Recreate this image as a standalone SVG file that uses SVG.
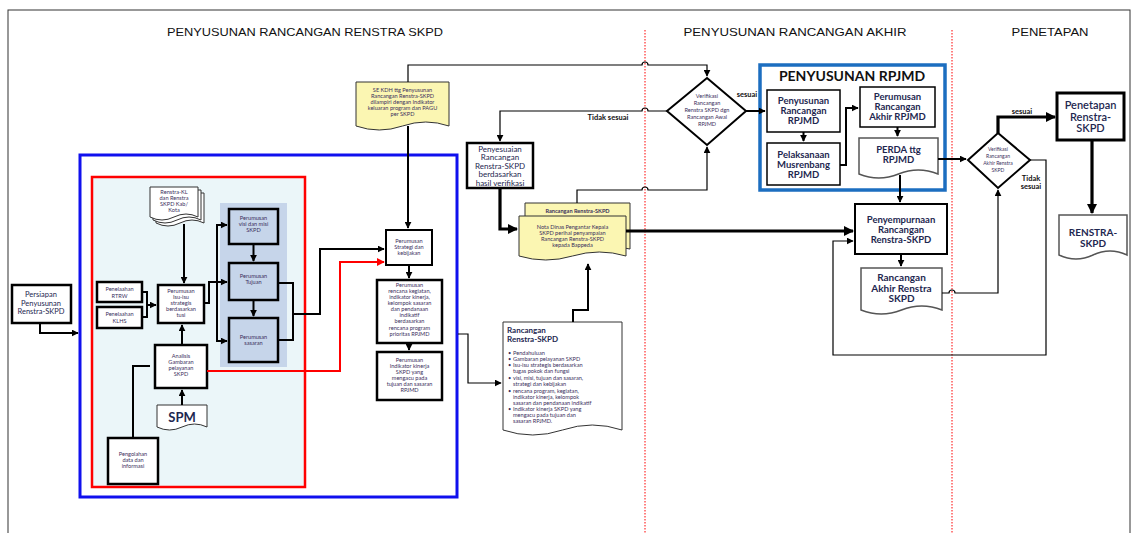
<svg xmlns="http://www.w3.org/2000/svg" width="1134" height="533" viewBox="0 0 1134 533">
<defs>
<marker id="a" viewBox="0 0 10 10" refX="9" refY="5" markerWidth="7" markerHeight="7" markerUnits="userSpaceOnUse" orient="auto"><path d="M0,0 L10,5 L0,10 z" fill="#000"/></marker>
<marker id="ab" viewBox="0 0 10 10" refX="9" refY="5" markerWidth="10" markerHeight="10" markerUnits="userSpaceOnUse" orient="auto"><path d="M0,0 L10,5 L0,10 z" fill="#000"/></marker>
<marker id="ar" viewBox="0 0 10 10" refX="9" refY="5" markerWidth="8" markerHeight="8" markerUnits="userSpaceOnUse" orient="auto"><path d="M0,0 L10,5 L0,10 z" fill="#f00"/></marker>
<style>
.box{fill:#fff;stroke:#000;stroke-width:2.5}
.bl{fill:#c6d5ea;stroke:#000;stroke-width:2.5}
.bx{fill:#fff;stroke:#000;stroke-width:1.5}
.doc{fill:#fff;stroke:#333;stroke-width:1}
.gdoc{fill:#fff;stroke:#555;stroke-width:1.5}
.ydoc{fill:#fbf6b2;stroke:#333;stroke-width:1}
.c{fill:none;stroke:#000;stroke-width:2}
.t{fill:none;stroke:#000;stroke-width:1.2}
.k{fill:none;stroke:#000;stroke-width:3.2}
.dash{fill:none;stroke:#f00;stroke-width:1;stroke-dasharray:1.5,1.5}
text{font-family:Lato,"Open Sans","Liberation Sans",sans-serif;text-anchor:middle}
.s{font-size:5.6px;fill:#3a2f5c}
.m{font-size:7.5px;fill:#1e2750}
.p{font-size:8px;fill:#1e2750}
.b{font-size:9.5px;font-weight:bold;fill:#1e2750}
.h{font-family:"Liberation Sans Narrow","Liberation Sans",sans-serif;font-size:10.5px;fill:#111}
.lab{font-size:7.5px;font-weight:bold;fill:#111}
.l{text-anchor:start}
</style>
</defs>

<rect x="8" y="10" width="1122" height="540" fill="none" stroke="#333" stroke-width="1"/>

<g id="headers">
<text class="h" x="305" y="36" textLength="276" lengthAdjust="spacingAndGlyphs">PENYUSUNAN RANCANGAN RENSTRA SKPD</text>
<text class="h" x="795" y="36" textLength="223" lengthAdjust="spacingAndGlyphs">PENYUSUNAN RANCANGAN AKHIR</text>
<text class="h" x="1050" y="36" textLength="77" lengthAdjust="spacingAndGlyphs">PENETAPAN</text>
</g>

<g id="dividers">
<line class="dash" x1="645" y1="30" x2="645" y2="533"/>
<line class="dash" x1="952" y1="30" x2="952" y2="533"/>
</g>

<g id="blue-frame"><rect x="80" y="155" width="377" height="342" fill="none" stroke="#1010ee" stroke-width="3"/></g>
<g id="red-frame"><rect x="92" y="177" width="213" height="310" fill="#ebf6f9" stroke="#f00" stroke-width="2.5"/></g>
<g id="panel"><rect x="220" y="203" width="67" height="164" fill="#c6d5ea"/></g>

<g id="persiapan"><rect class="box" x="12" y="285" width="59" height="38"/>
<text class="m" x="41" y="297">Persiapan</text><text class="m" x="41" y="305.5">Penyusunan</text><text class="m" x="41" y="314">Renstra-SKPD</text></g>

<g id="renstra-kl">
<path class="doc" d="M156,193 H204 V223 Q192,217 180,223 T156,223 Z"/>
<path class="doc" d="M153,190 H201 V220 Q189,214 177,220 T153,220 Z"/>
<path class="doc" d="M150,187 H198 V217 Q186,211 174,217 T150,217 Z"/>
<text class="s" x="174" y="194">Renstra-KL</text><text class="s" x="174" y="200">dan Renstra</text><text class="s" x="174" y="206">SKPD Kab/</text><text class="s" x="174" y="212">Kota</text></g>

<g id="rtrw"><rect class="box" x="97" y="282" width="45" height="20"/><text class="s" x="119.5" y="291">Penelaahan</text><text class="s" x="119.5" y="297.5">RTRW</text></g>
<g id="klhs"><rect class="box" x="97" y="307" width="45" height="21"/><text class="s" x="119.5" y="316">Penelaahan</text><text class="s" x="119.5" y="322.5">KLHS</text></g>

<g id="isu"><rect class="box" x="158" y="285" width="46" height="38"/>
<text class="s" x="181" y="293">Perumusan</text><text class="s" x="181" y="299">Isu-isu</text><text class="s" x="181" y="305">strategis</text><text class="s" x="181" y="311">berdasarkan</text><text class="s" x="181" y="317">tusi</text></g>

<g id="visi"><rect class="bl" x="229" y="209" width="49" height="35"/><text class="s" x="253.5" y="220">Perumusan</text><text class="s" x="253.5" y="226">visi dan misi</text><text class="s" x="253.5" y="232">SKPD</text></g>
<g id="tujuan"><rect class="bl" x="229" y="263" width="49" height="37"/><text class="s" x="253.5" y="278">Perumusan</text><text class="s" x="253.5" y="284">Tujuan</text></g>
<g id="sasaran"><rect class="bl" x="229" y="318" width="49" height="44"/><text class="s" x="253.5" y="339">Perumusan</text><text class="s" x="253.5" y="345">sasaran</text></g>

<g id="analisis"><rect class="box" x="155" y="345" width="52" height="43"/>
<text class="s" x="181" y="358">Analisis</text><text class="s" x="181" y="364">Gambaran</text><text class="s" x="181" y="370">pelayanan</text><text class="s" x="181" y="376">SKPD</text></g>

<g id="spm"><path class="doc" d="M157,405 H207 V427 Q194.5,421 182,427 T157,427 Z"/><text x="182" y="422" style="font-size:13px;font-weight:bold;fill:#1e2750">SPM</text></g>

<g id="pengolahan"><rect class="box" x="108" y="438" width="50" height="46"/><text class="s" x="133" y="456">Pengolahan</text><text class="s" x="133" y="462">data dan</text><text class="s" x="133" y="468">informasi</text></g>

<g id="se-kdh"><path class="ydoc" d="M356,82 H449 V126 Q425.75,118 402.5,126 T356,126 Z"/>
<text class="s" x="402.5" y="92">SE KDH  ttg Penyusunan</text><text class="s" x="402.5" y="98">Rancangan Renstra-SKPD</text><text class="s" x="402.5" y="104">dilampiri dengan Indikator</text><text class="s" x="402.5" y="110">keluaran program dan PAGU</text><text class="s" x="402.5" y="116">per SKPD</text></g>

<g id="strategi"><rect class="c" x="386" y="230" width="46" height="35" style="fill:#fff"/><text class="s" x="409" y="243">Perumusan</text><text class="s" x="409" y="249">Strategi dan</text><text class="s" x="409" y="255">kebijakan</text></g>

<g id="rencana"><rect class="box" x="377" y="280" width="65" height="63"/>
<text class="s" x="409.5" y="287">Perumusan</text><text class="s" x="409.5" y="293">rencana kegiatan,</text><text class="s" x="409.5" y="299">indikator kinerja,</text><text class="s" x="409.5" y="305">kelompok sasaran</text><text class="s" x="409.5" y="311">dan pendanaan</text><text class="s" x="409.5" y="317">indikatif</text><text class="s" x="409.5" y="323">berdasarkan</text><text class="s" x="409.5" y="330">rencana program</text><text class="s" x="409.5" y="336">prioritas RPJMD</text></g>

<g id="indikator"><rect class="box" x="377" y="352" width="65" height="48"/>
<text class="s" x="409.5" y="362">Perumusan</text><text class="s" x="409.5" y="368">Indikator kinerja</text><text class="s" x="409.5" y="374">SKPD yang</text><text class="s" x="409.5" y="380">mengacu pada</text><text class="s" x="409.5" y="386">tujuan dan sasaran</text><text class="s" x="409.5" y="392">RPJMD</text></g>

<g id="penyesuaian"><rect class="box" x="467" y="143" width="66" height="45"/>
<text class="p" x="500" y="151.5">Penyesuaian</text><text class="p" x="500" y="160">Rancangan</text><text class="p" x="500" y="168.5">Renstra-SKPD</text><text class="p" x="500" y="177">berdasarkan</text><text class="p" x="500" y="185.5">hasil verifikasi</text></g>

<g id="nota-dinas">
<path class="ydoc" d="M525,203 H630 V249 Q603.75,243 577.5,249 T525,249 Z"/>
<text class="s" x="577.5" y="213" style="font-weight:bold">Rancangan Renstra-SKPD</text>
<path class="ydoc" d="M519,216 H626 V256 Q599.25,248 572.5,256 T519,256 Z"/>
<text class="s" x="572.5" y="229">Nota Dinas Pengantar Kepala</text><text class="s" x="572.5" y="235">SKPD perihal penyampaian</text><text class="s" x="572.5" y="241">Rancangan Renstra-SKPD</text><text class="s" x="572.5" y="247">kepada Bappeda</text></g>

<g id="rancangan-renstra"><path class="doc" d="M503,322 H622 V430 Q592.25,420 562.5,430 T503,430 Z"/>
<text class="l" x="507" y="333" style="font-size:8px;font-weight:bold;fill:#1e2750">Rancangan</text>
<text class="l" x="507" y="342" style="font-size:8px;font-weight:bold;fill:#1e2750">Renstra-SKPD</text>
<g class="s">
<text class="s l" x="508" y="355">•</text><text class="s l" x="513" y="355">Pendahuluan</text>
<text class="s l" x="508" y="361">•</text><text class="s l" x="513" y="361">Gambaran pelayanan SKPD</text>
<text class="s l" x="508" y="367">•</text><text class="s l" x="513" y="367">Isu-isu strategis  berdasarkan</text>
<text class="s l" x="513" y="373">tugas pokok dan fungsi</text>
<text class="s l" x="508" y="380">•</text><text class="s l" x="513" y="380">visi, misi, tujuan dan sasaran,</text>
<text class="s l" x="513" y="386">strategi dan kebijakan</text>
<text class="s l" x="508" y="393">•</text><text class="s l" x="513" y="393">rencana program, kegiatan,</text>
<text class="s l" x="513" y="399">indikator kinerja, kelompok</text>
<text class="s l" x="513" y="405">sasaran dan pendanaan indikatif</text>
<text class="s l" x="508" y="411">•</text><text class="s l" x="513" y="411">Indikator kinerja SKPD yang</text>
<text class="s l" x="513" y="417">mengacu pada tujuan dan</text>
<text class="s l" x="513" y="423">sasaran   RPJMD.</text>
</g></g>

<g id="verifikasi-1"><path d="M707,78 L746,111 L707,145 L667,111 Z" fill="#fff" stroke="#000" stroke-width="2"/>
<text class="s" x="707" y="98">Verifikasi</text><text class="s" x="707" y="105">Rancangan</text><text class="s" x="707" y="112">Renstra SKPD dgn</text><text class="s" x="707" y="119">Rancangan Awal</text><text class="s" x="707" y="126">RPJMD</text></g>

<g id="rpjmd-frame"><rect x="760" y="65" width="185" height="125" fill="#fff" stroke="#1c6ec0" stroke-width="3.5"/>
<text x="852" y="81" style="font-size:14px;font-weight:bold;fill:#111">PENYUSUNAN RPJMD</text></g>

<g id="penyusunan-rpjmd"><rect class="bx" x="767" y="90" width="73" height="42"/><text class="b" x="803.5" y="104">Penyusunan</text><text class="b" x="803.5" y="114">Rancangan</text><text class="b" x="803.5" y="124">RPJMD</text></g>
<g id="musrenbang"><rect class="bx" x="767" y="143" width="73" height="42"/><text class="b" x="803.5" y="158">Pelaksanaan</text><text class="b" x="803.5" y="168">Musrenbang</text><text class="b" x="803.5" y="178">RPJMD</text></g>
<g id="perumusan-akhir"><rect class="bx" x="860" y="87" width="75" height="40"/><text class="b" x="897.5" y="100">Perumusan</text><text class="b" x="897.5" y="110">Rancangan</text><text class="b" x="897.5" y="120">Akhir RPJMD</text></g>
<g id="perda"><path class="gdoc" d="M859,138 H938 V174 Q918.25,166 898.5,174 T859,174 Z"/><text class="b" x="898.5" y="153">PERDA ttg</text><text class="b" x="898.5" y="163">RPJMD</text></g>

<g id="penyempurnaan"><rect class="c" x="855" y="204" width="92" height="50" style="fill:#fff"/><text class="b" x="901" y="223">Penyempurnaan</text><text class="b" x="901" y="233">Rancangan</text><text class="b" x="901" y="243">Renstra-SKPD</text></g>
<g id="rancangan-akhir"><path class="gdoc" d="M861,268 H942 V310 Q921.75,302 901.5,310 T861,310 Z"/><text class="b" x="901.5" y="281" style="font-size:10px">Rancangan</text><text class="b" x="901.5" y="292" style="font-size:10px">Akhir Renstra</text><text class="b" x="901.5" y="302" style="font-size:10px">SKPD</text></g>

<g id="verifikasi-2"><path d="M998,133 L1030,160 L998,188 L968,160 Z" fill="#fff" stroke="#000" stroke-width="2"/>
<text class="s" x="998" y="151" style="font-size:5px">Verifikasi</text><text class="s" x="998" y="158" style="font-size:5px">Rancangan</text><text class="s" x="998" y="165" style="font-size:5px">Akhir Renstra</text><text class="s" x="998" y="172" style="font-size:5px">SKPD</text></g>

<g id="penetapan"><rect x="1057" y="93" width="67" height="47" fill="#fff" stroke="#000" stroke-width="3"/>
<text x="1090.5" y="109" style="font-size:11px;font-weight:600;fill:#1e2750">Penetapan</text><text x="1090.5" y="121" style="font-size:11px;font-weight:600;fill:#1e2750">Renstra-</text><text x="1090.5" y="132" style="font-size:11px;font-weight:600;fill:#1e2750">SKPD</text></g>
<g id="renstra-skpd"><path class="gdoc" d="M1059,215 H1127 V255 Q1110,247 1093,255 T1059,255 Z"/><text class="b" x="1093" y="236" style="font-size:10px">RENSTRA-</text><text class="b" x="1093" y="247" style="font-size:10px">SKPD</text></g>

<g id="connectors">
<path class="c" d="M40,323 V333 H78" marker-end="url(#a)"/>
<path class="c" d="M142,292 H147 V317 H142 M147,305 H156" marker-end="url(#a)"/>
<path class="c" d="M184,224 V283" marker-end="url(#a)"/>
<path class="c" d="M182,345 V325" marker-end="url(#a)"/>
<path class="c" d="M182,405 V390" marker-end="url(#a)"/>
<path class="c" d="M133,438 V366 H150"/>
<path class="c" d="M204,303 H209 V282 H227" marker-end="url(#a)"/>
<path class="c" d="M217,282 V225 H227" marker-end="url(#a)"/>
<path class="c" d="M217,282 V341 H227" marker-end="url(#a)"/>
<path class="c" d="M253.5,244 V261" marker-end="url(#a)"/>
<path class="c" d="M253.5,300 V316" marker-end="url(#a)"/>
<path class="c" d="M278,283 H293 V340 H278"/>
<path class="c" d="M293,314 H320 V249 H384" marker-end="url(#a)"/>
<path d="M207,371 H340 V262 H384" fill="none" stroke="#f00" stroke-width="2" marker-end="url(#ar)"/>
<path class="c" d="M408,126 V228" marker-end="url(#a)"/>
<path class="t" d="M408,82 V65 H642 a3,3 0 0 1 6,0 H707 V76" marker-end="url(#a)"/>
<path class="c" d="M409,265 V278" marker-end="url(#a)"/>
<path class="c" d="M409,343 V350" marker-end="url(#a)"/>
<path class="t" d="M458,334 H468 V383 H501" marker-end="url(#a)"/>
<path class="c" d="M573,322 V310 H588 V264" marker-end="url(#a)"/>
<path class="t" d="M667,111 H648 a3,3 0 0 0 -6,0 H500 V141" marker-end="url(#a)"/>
<path class="k" d="M500,188 V229 H517" marker-end="url(#ab)"/>
<path class="t" d="M577,203 V190 H642 a3,3 0 0 1 6,0 H707 V147" marker-end="url(#a)"/>
<path class="k" d="M626,231 H853" marker-end="url(#ab)"/>
<path class="c" d="M746,111 H765" marker-end="url(#a)"/>
<path class="c" d="M803.5,132 V141" marker-end="url(#a)"/>
<path class="c" d="M840,165 H846 V108 H858" marker-end="url(#a)"/>
<path class="c" d="M897.5,127 V136" marker-end="url(#a)"/>
<path class="c" d="M900,175 V202" marker-end="url(#a)"/>
<path class="c" d="M901,254 V266" marker-end="url(#a)"/>
<path class="c" d="M938,159 H966" marker-end="url(#a)"/>
<path class="t" d="M942,293 H949 a3,3 0 0 1 6,0 H998 V190" marker-end="url(#a)"/>
<path class="t" d="M1030,160 H1046 V355 H833 V241 H853" marker-end="url(#a)"/>
<path class="k" d="M998,133 V117 H1055" marker-end="url(#ab)"/>
<path class="k" d="M1092,140 V213" marker-end="url(#ab)"/>
</g>

<g id="labels">
<text class="lab" x="747" y="97">sesuai</text>
<text class="lab" x="608" y="120">Tidak sesuai</text>
<text class="lab" x="1022" y="114">sesuai</text>
<text class="lab" x="1031" y="181">Tidak</text>
<text class="lab" x="1031" y="189">sesuai</text>
</g>
</svg>
